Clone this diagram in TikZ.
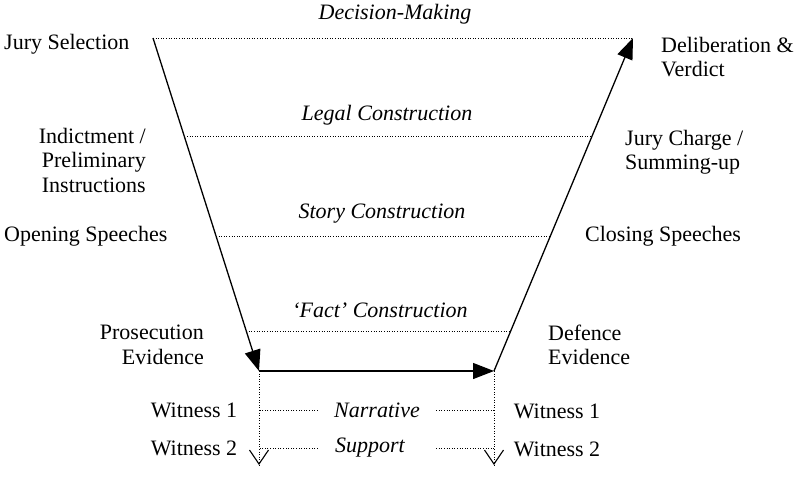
\documentclass[tikz,border=0pt]{standalone}
\usepackage{fontspec}
\setmainfont{Liberation Serif}
\usetikzlibrary{arrows.meta,calc}

\begin{document}
\begin{tikzpicture}[x=1pt,y=-1pt,
    lbl/.style={inner sep=0pt, font=\fontsize{22}{24.5}\selectfont},
    phase/.style={inner sep=0pt, font=\fontsize{22}{24.5}\selectfont\itshape},
    flow/.style={line width=1.3pt, -{Triangle[length=21pt,width=16pt]}},
    dots/.style={line width=1pt, dash pattern=on 1pt off 1.6pt},
    vee/.style={line width=1.1pt, -{Straight Barb[length=14pt,width=19pt,line width=1.1pt]}}
]
    \useasboundingbox (0,0) rectangle (795,491);
    \coordinate (js) at (153,38);
    \coordinate (pe) at (259,371);
    \coordinate (de) at (494,371);
    \coordinate (dv) at (633,38);
    \coordinate (pw) at (259,465);
    \coordinate (dw) at (494,465);

    \draw[flow] (js) -- (pe);
    \draw[flow] (pe) -- (de);
    \draw[flow] (de) -- (dv);
    \draw[dots] (js) -- (dv);
    \foreach \t/\n in {0.297/legal, 0.595/story, 0.880/fact}
        \draw[dots] ($(js)!\t!(pe)$) -- ($(dv)!\t!(de)$);
    \foreach \a/\b in {pe/pw, de/dw} {
        \draw[dots] (\a) -- (\b);
        \draw[vee] ($(\b)+(0,-1)$) -- (\b);
    }

    \node[phase] (dm) at (395,14) {Decision-Making};
    \node[phase] (lc) at (387,115) {Legal Construction};
    \node[phase] (sc) at (382,214) {Story Construction};
    \node[phase] (fc) at (380,310) {`Fact' Construction};
    \node[phase, minimum width=118pt] (nar) at (377,410) {Narrative};
    \node[phase, minimum width=118pt] (sup) at (377,448) {\hspace*{-14pt}Support};
    \foreach \n in {nar,sup} {
        \draw[dots] (\n.west) -- (\n.west -| pe);
        \draw[dots] (\n.east) -- (\n.east -| de);
    }

    \node[lbl, anchor=west] (l1) at (4,44) {Jury Selection};
    \node[lbl, anchor=east, align=right] (l2) at (146,160) {Indictment /\\Preliminary\\Instructions};
    \node[lbl, anchor=west] (l3) at (4,236) {Opening Speeches};
    \node[lbl, anchor=east, align=right] (l4) at (204,345) {Prosecution\\Evidence};
    \node[lbl, anchor=west, align=left] (r1) at (661,57) {Deliberation \&\\Verdict};
    \node[lbl, anchor=west, align=left] (r2) at (625,152) {Jury Charge /\\Summing-up};
    \node[lbl, anchor=west] (r3) at (585,236) {Closing Speeches};
    \node[lbl, anchor=west, align=left] (r4) at (548,345) {Defence\\Evidence};
    \node[lbl] (w1) at (194,410) {Witness 1};
    \node[lbl] (w2) at (194,448) {Witness 2};
    \node[lbl] (w3) at (557,411) {Witness 1};
    \node[lbl] (w4) at (557,449) {Witness 2};
\end{tikzpicture}
\end{document}
